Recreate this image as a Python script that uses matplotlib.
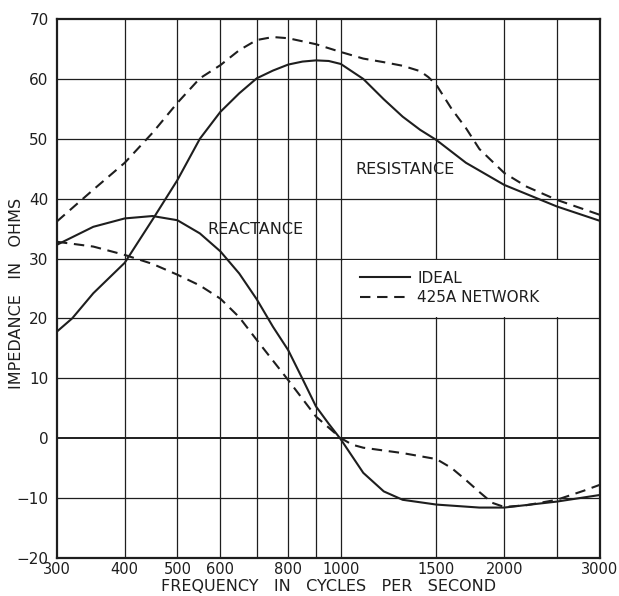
import matplotlib
matplotlib.use('Agg')
import matplotlib.pyplot as plt
from matplotlib.ticker import FixedLocator, NullLocator

# resistance curves
f_res_ideal = [300, 320, 350, 400, 450, 500, 550, 600, 650, 700, 750, 800, 850, 900, 950,
               1000, 1100, 1200, 1300, 1400, 1500, 1700, 2000, 2500, 3000]
r_ideal = [17.8, 20.0, 24.2, 29.3, 36.5, 43.1, 50.0, 54.5, 57.6, 60.1, 61.4, 62.4, 62.9, 63.1, 63.0,
           62.5, 60.0, 56.6, 53.7, 51.5, 49.8, 46.0, 42.3, 38.7, 36.3]

f_res_net = [300, 350, 400, 450, 500, 550, 600, 650, 700, 750, 800, 900, 1000, 1100, 1200,
             1300, 1400, 1450, 1500, 1600, 1700, 1800, 2000, 2200, 2500, 3000]
r_net = [36.2, 41.5, 46.0, 51.0, 56.0, 60.1, 62.3, 64.8, 66.5, 67.0, 66.8, 65.8, 64.5, 63.4, 62.8,
         62.2, 61.3, 60.3, 59.0, 55.0, 51.8, 48.3, 44.3, 42.0, 39.8, 37.3]

# reactance curves
f_x_ideal = [300, 350, 400, 450, 500, 550, 600, 650, 700, 750, 800, 850, 900, 950, 1000,
             1100, 1200, 1300, 1500, 1800, 2000, 2500, 3000]
x_ideal = [32.3, 35.3, 36.7, 37.1, 36.4, 34.2, 31.2, 27.5, 23.2, 18.6, 14.7, 9.9, 5.3, 2.4, -0.2,
           -5.8, -8.9, -10.3, -11.1, -11.6, -11.6, -10.6, -9.5]

f_x_net = [300, 350, 400, 450, 500, 550, 600, 650, 700, 800, 900, 1000, 1050, 1100, 1300,
           1500, 1600, 1700, 1800, 1900, 2000, 2200, 2500, 2800, 3000]
x_net = [32.8, 32.0, 30.6, 29.1, 27.3, 25.5, 23.3, 20.2, 16.4, 9.7, 3.6, 0.0, -1.1, -1.6, -2.5,
         -3.5, -5.0, -7.0, -9.0, -10.8, -11.5, -11.2, -10.3, -8.8, -7.8]

grid_x = [400, 500, 600, 700, 800, 900, 1000, 1500, 2000, 2500]
xtick_vals = [300, 400, 500, 600, 800, 1000, 1500, 2000, 3000]
ytick_vals = [-20, -10, 0, 10, 20, 30, 40, 50, 60, 70]

ink = '#1e1e1e'
plt.rcParams['font.family'] = 'DejaVu Sans'

fig = plt.figure(figsize=(6.19, 5.96), dpi=100)
ax = fig.add_axes([0.092, 0.064, 0.877, 0.904])
ax.set_xscale('log')
ax.set_xlim(300, 3000)
ax.set_ylim(-20, 70)

for g in grid_x:
    ax.axvline(g, color=ink, lw=0.9, zorder=1)
for g in ytick_vals[1:-1]:
    ax.axhline(g, color=ink, lw=1.4 if g == 0 else 0.9, zorder=1)

# blank panel behind legend
ax.fill_between([1010, 2990], 20.25, 29.75, color='white', zorder=2, lw=0)

ax.plot(f_res_ideal, r_ideal, color=ink, lw=1.5, zorder=3, label='IDEAL')
ax.plot(f_res_net, r_net, color=ink, lw=1.5, ls=(0, (5, 3.2)), zorder=3, label='425A NETWORK')
ax.plot(f_x_ideal, x_ideal, color=ink, lw=1.5, zorder=3)
ax.plot(f_x_net, x_net, color=ink, lw=1.5, ls=(0, (5, 3.2)), zorder=3)

ax.text(1312, 44.8, 'RESISTANCE', ha='center', va='center', fontsize=11.5, color=ink, zorder=4)
ax.text(695, 34.9, 'REACTANCE', ha='center', va='center', fontsize=11.5, color=ink, zorder=4)

leg = ax.legend(loc='center left', bbox_to_anchor=(0.558, 0.447, 0.44, 0.108), frameon=False,
                fontsize=11, handlelength=3.3, handletextpad=0.45, labelspacing=0.3,
                borderaxespad=0, borderpad=0)
for t in leg.get_texts():
    t.set_color(ink)
leg.set_zorder(5)

ax.xaxis.set_major_locator(FixedLocator(xtick_vals))
ax.xaxis.set_minor_locator(NullLocator())
ax.set_xticklabels([str(v) for v in xtick_vals])
ax.set_yticks(ytick_vals)
ax.set_yticklabels([('\u2212' + str(-v)) if v < 0 else str(v) for v in ytick_vals])
ax.tick_params(axis='y', length=0, labelsize=11, colors=ink, pad=6)
ax.tick_params(axis='x', length=0, labelsize=10.5, colors=ink, pad=3)

for s in ax.spines.values():
    s.set_color(ink)
    s.set_linewidth(1.6)

ax.set_xlabel('FREQUENCY   IN   CYCLES   PER   SECOND', fontsize=11.5, color=ink, va='center')
ax.xaxis.set_label_coords(0.5, -0.053)
ax.set_ylabel('IMPEDANCE   IN   OHMS', fontsize=11.5, color=ink, va='center')
ax.yaxis.set_label_coords(-0.074, 0.49)

fig.savefig('out.png', dpi=100)
